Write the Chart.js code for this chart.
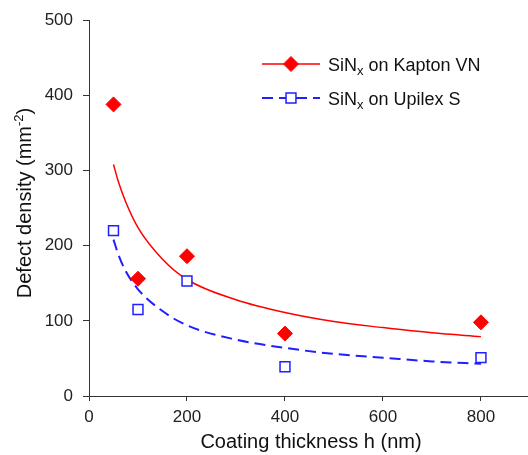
<!DOCTYPE html>
<html>
<head>
<meta charset="utf-8">
<script src="https://cdn.jsdelivr.net/npm/chart.js@4.4.1/dist/chart.umd.min.js"></script>
<style>
  html, body { margin: 0; padding: 0; background: #fff; overflow: hidden; }
</style>
</head>
<body>
<canvas id="chart" width="528" height="455"></canvas>
<script>
// ── Data ─────────────────────────────────────
const thickness     = [50, 100, 200, 400, 800];
const kaptonDefects = [388, 156, 186, 83, 98];
const upilexDefects = [220, 115, 153, 39, 51];

// fitted curves
const fitX      = [50, 60, 75, 100, 150, 200, 300, 400, 500, 600, 700, 800];
const kaptonFit = [308, 285, 258, 224, 182, 155, 128, 111, 99, 91, 84, 79];
const upilexFit = [208, 188, 166, 142, 113, 94, 75, 64, 56, 51, 46, 43];

const xTicks = [0, 200, 400, 600, 800];
const yTicks = [0, 100, 200, 300, 400, 500];

const xTitle = "Coating thickness h (nm)";
const yTitle = ["Defect density (mm", "-2", ")"];
const seriesNames = [["SiN", "x", " on Kapton VN"], ["SiN", "x", " on Upilex S"]];

const RED  = "#ff0000";
const BLUE = "#1f1fff";
const FONT = "'Liberation Sans', Arial, sans-serif";

const pts = (xs, ys) => xs.map((x, i) => ({ x, y: ys[i] }));

const kaptonPts = {
  data: pts(thickness, kaptonDefects),
  showLine: false,
  pointStyle: "rectRot",
  pointRadius: 7.5,
  backgroundColor: RED,
  borderColor: RED,
  borderWidth: 1,
};
const upilexPts = {
  data: pts(thickness, upilexDefects),
  showLine: false,
  pointStyle: "rect",
  pointRadius: 7,
  backgroundColor: "#fff",
  borderColor: BLUE,
  borderWidth: 1.5,
};
const kaptonLine = {
  data: pts(fitX, kaptonFit),
  showLine: true,
  borderColor: RED,
  borderWidth: 1.5,
  pointRadius: 0,
  cubicInterpolationMode: "monotone",
};
const upilexLine = {
  data: pts(fitX, upilexFit),
  showLine: true,
  borderColor: BLUE,
  borderWidth: 2,
  borderDash: [11, 6],
  pointRadius: 0,
  cubicInterpolationMode: "monotone",
};

// titles + legend with sub/superscripts
const annotate = {
  id: "annotate",
  afterDraw(chart) {
    const ctx  = chart.ctx;
    ctx.save();
    ctx.fillStyle = "#111";
    ctx.textBaseline = "alphabetic";

    // x title
    ctx.font = "20px " + FONT;
    ctx.textAlign = "center";
    ctx.fillText(xTitle, 311, 448);

    // y title (rotated, with superscript)
    ctx.save();
    ctx.translate(31, 203);
    ctx.rotate(-Math.PI / 2);
    ctx.textAlign = "left";
    ctx.font = "20px " + FONT;
    const w1 = ctx.measureText(yTitle[0]).width;
    const w3 = ctx.measureText(yTitle[2]).width;
    ctx.font = "13px " + FONT;
    const w2 = ctx.measureText(yTitle[1]).width;
    let x = -(w1 + w2 + w3) / 2;
    ctx.font = "20px " + FONT;
    ctx.fillText(yTitle[0], x, 0);
    ctx.font = "13px " + FONT;
    ctx.fillText(yTitle[1], x + w1, -8);
    ctx.font = "20px " + FONT;
    ctx.fillText(yTitle[2], x + w1 + w2, 0);
    ctx.restore();

    // legend
    const entries = [
      { line: kaptonLine, pt: kaptonPts, y: 64, name: seriesNames[0] },
      { line: upilexLine, pt: upilexPts, y: 98, name: seriesNames[1] },
    ];
    entries.forEach(e => {
      ctx.save();
      ctx.strokeStyle = e.line.borderColor;
      ctx.lineWidth = e.line.borderWidth;
      ctx.setLineDash(e.line.borderDash || []);
      ctx.beginPath();
      ctx.moveTo(262, e.y);
      ctx.lineTo(320, e.y);
      ctx.stroke();
      ctx.setLineDash([]);
      ctx.fillStyle = e.pt.backgroundColor;
      ctx.strokeStyle = e.pt.borderColor;
      ctx.lineWidth = e.pt.borderWidth;
      Chart.helpers.drawPoint(ctx, {
        pointStyle: e.pt.pointStyle, radius: e.pt.pointRadius, rotation: 0, borderWidth: e.pt.borderWidth
      }, 291, e.y);
      ctx.restore();

      ctx.fillStyle = "#111";
      ctx.textAlign = "left";
      let tx = 328;
      ctx.font = "18px " + FONT;
      ctx.fillText(e.name[0], tx, e.y + 7);
      tx += ctx.measureText(e.name[0]).width;
      ctx.font = "13px " + FONT;
      ctx.fillText(e.name[1], tx, e.y + 11);
      tx += ctx.measureText(e.name[1]).width;
      ctx.font = "18px " + FONT;
      ctx.fillText(e.name[2], tx, e.y + 7);
    });
    ctx.restore();
  }
};

const axisGrid = { display: true, drawOnChartArea: false, drawTicks: true, tickLength: 6, tickColor: "#333", tickWidth: 1 };
const axisBorder = { display: true, color: "#333", width: 1 };

new Chart(document.getElementById("chart"), {
  type: "scatter",
  data: { datasets: [kaptonPts, upilexPts, kaptonLine, upilexLine] },
  options: {
    responsive: false,
    animation: false,
    layout: { autoPadding: false, padding: { top: 15, right: 0, left: 0, bottom: 0 } },
    plugins: { legend: { display: false }, tooltip: { enabled: false } },
    scales: {
      x: {
        type: "linear",
        min: 0,
        max: 896,
        afterBuildTicks: s => { s.ticks = xTicks.map(v => ({ value: v })); },
        afterFit: s => { s.height = 59; s.paddingLeft = 0; s.paddingRight = 0; },
        ticks: { color: "#222", font: { family: FONT, size: 17 }, padding: 6, maxRotation: 0 },
        grid: { ...axisGrid, tickLength: 5 },
        border: axisBorder,
      },
      y: {
        type: "linear",
        min: 0,
        max: 500,
        afterBuildTicks: s => { s.ticks = yTicks.map(v => ({ value: v })); },
        afterFit: s => { s.width = 89; },
        ticks: { color: "#222", font: { family: FONT, size: 17 }, padding: 10 },
        grid: axisGrid,
        border: axisBorder,
      }
    }
  },
  plugins: [annotate]
});
</script>
</body>
</html>
